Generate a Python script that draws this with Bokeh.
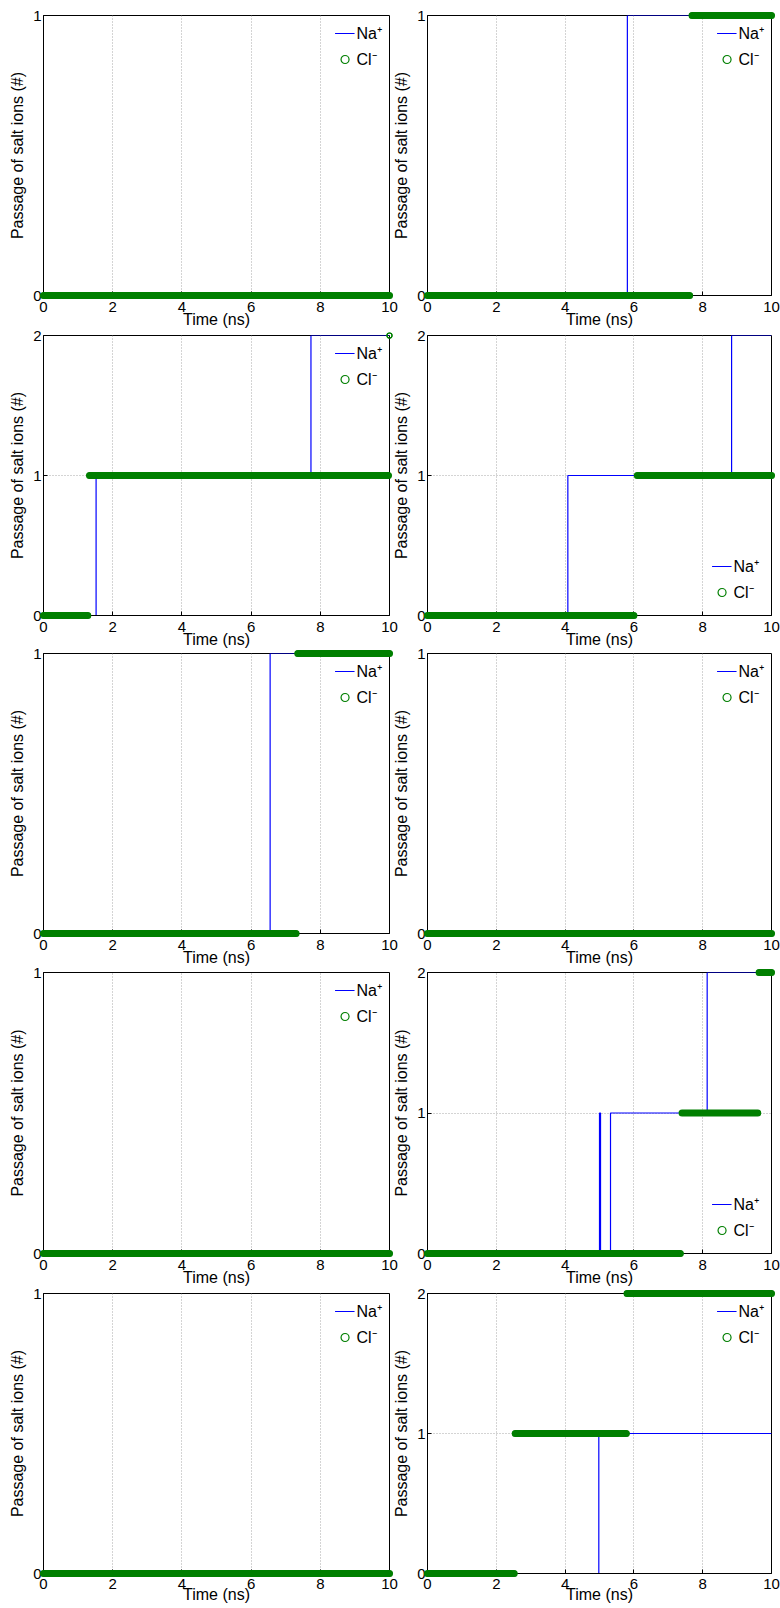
from bokeh.plotting import figure
from bokeh.layouts import column, row
from bokeh.models import Range1d, Legend, LegendItem, FixedTicker
from bokeh.embed import file_html
from bokeh.resources import INLINE

# ---------------- data ----------------
X_TICKS = [0, 2, 4, 6, 8, 10]
Y_MAX = [1, 1, 2, 2, 1, 1, 1, 2, 1, 2]

# Na+ : step series (time of change, value held after it)
NA_T = [
    [0, 10],
    [0, 5.81, 10],
    [0, 1.52, 7.73, 10],
    [0, 4.08, 8.84, 10],
    [0, 6.55, 10],
    [0, 10],
    [0, 10],
    [0, 5.0, 5.03, 5.32, 8.13, 10],
    [0, 10],
    [0, 4.98, 10],
]
NA_V = [
    [0, 0],
    [0, 1, 1],
    [0, 1, 2, 2],
    [0, 1, 2, 2],
    [0, 1, 1],
    [0, 0],
    [0, 0],
    [0, 1, 0, 1, 2, 2],
    [0, 0],
    [0, 1, 1],
]
# Cl- : densely sampled markers, described as runs (start, end, level)
CL_START = [[0], [0, 7.69], [0, 1.33, 10.0], [0, 6.1], [0, 7.35],
            [0], [0], [0, 7.4, 9.64], [0], [0, 2.55, 5.8]]
CL_END = [[10], [7.62, 10], [1.28, 9.97, 10.0], [6.0, 10], [7.3, 10],
          [10], [10], [7.35, 9.6, 10], [10], [2.52, 5.78, 10]]
CL_LEVEL = [[0], [0, 1], [0, 1, 2], [0, 1], [0, 1],
            [0], [0], [0, 1, 2], [0], [0, 1, 2]]
LEGEND_LOC = ["top_right", "top_right", "top_right", "bottom_right", "top_right",
              "top_right", "top_right", "bottom_right", "top_right", "top_right"]

NA_LABEL = "Na\u207a"
CL_LABEL = "Cl\u207b"
X_LABEL = "Time (ns)"
Y_LABEL = "Passage of salt ions (#)"

# ---------------- style / layout ----------------
FONT = "Liberation Sans"
BLUE = "#0000ff"
GREEN = "#007f00"
TOPS = [15, 12, 12, 12, 11]
FRAME_H = [280, 280, 280, 281, 280]
BOTTOMS = [38, 38, 38, 38, 35]
ROW_SHIFT = [0, -10, -12, -11, -9]
X_TICK_STANDOFF = [6, 6, 6, 6, 5]
X_LABEL_STANDOFF = [-4, -4, -4, -4, -6]
FRAME_W = 346


def make_panel(i, col, r):
    ymax = Y_MAX[i]
    left = 43 if col == 0 else 35
    right = 11 if col == 0 else 9
    p = figure(width=left + FRAME_W + right,
               height=TOPS[r] + FRAME_H[r] + BOTTOMS[r],
               x_range=Range1d(0, 10), y_range=Range1d(0, ymax),
               output_backend="svg", toolbar_location=None,
               min_border_left=left, min_border_right=right,
               min_border_top=TOPS[r], min_border_bottom=BOTTOMS[r])
    p.background_fill_color = "white"
    p.border_fill_color = None
    if col == 1:
        p.margin = (0, 0, 0, -10)
    p.outline_line_color = "black"
    p.outline_line_width = 1
    p.outline_line_alpha = 1

    yticks = list(range(ymax + 1))
    p.xaxis.ticker = FixedTicker(ticks=X_TICKS)
    p.yaxis.ticker = FixedTicker(ticks=yticks)
    p.xgrid.ticker = FixedTicker(ticks=X_TICKS[1:-1])
    p.ygrid.ticker = FixedTicker(ticks=yticks[1:-1])
    for g in (p.xgrid, p.ygrid):
        g.grid_line_color = "#a8a8a8"
        g.grid_line_dash = "1 2"
        g.grid_line_width = 1

    for ax in (p.xaxis, p.yaxis):
        ax.major_tick_in = 4
        ax.major_tick_out = 0
        ax.minor_tick_line_color = None
        ax.axis_line_color = "black"
        ax.major_tick_line_color = "black"
        ax.major_label_text_font = FONT
        ax.major_label_text_font_size = "15px"
        ax.major_label_text_color = "black"
        ax.axis_label_text_font = FONT
        ax.axis_label_text_font_size = "16px"
        ax.axis_label_text_font_style = "normal"
        ax.axis_label_text_color = "black"
    p.xaxis.axis_label = X_LABEL
    p.yaxis.axis_label = Y_LABEL
    p.xaxis.major_label_standoff = X_TICK_STANDOFF[r]
    p.xaxis.axis_label_standoff = X_LABEL_STANDOFF[r]
    p.yaxis.major_label_standoff = 2
    p.yaxis.axis_label_standoff = 4

    na = p.step(x=NA_T[i], y=NA_V[i], mode="after", line_color=BLUE, line_width=1.2)

    runs = [(s, e, l) for s, e, l in zip(CL_START[i], CL_END[i], CL_LEVEL[i]) if e > s]
    p.segment(x0=[q[0] for q in runs], y0=[q[2] for q in runs],
              x1=[q[1] for q in runs], y1=[q[2] for q in runs],
              line_color=GREEN, line_width=7, line_cap="round", level="overlay")
    cl = p.scatter(x=CL_START[i] + CL_END[i], y=CL_LEVEL[i] + CL_LEVEL[i],
                   marker="circle", size=5, fill_color=None, line_color=GREEN,
                   line_width=1.2, level="overlay")

    loc = LEGEND_LOC[i]
    legend = Legend(items=[LegendItem(label=NA_LABEL, renderers=[na]),
                           LegendItem(label=CL_LABEL, renderers=[cl])],
                    location=loc, margin=4 if loc == "top_right" else 9,
                    padding=3, spacing=4, glyph_width=20, glyph_height=20,
                    label_height=20, label_standoff=2,
                    label_text_font=FONT, label_text_font_size="16px",
                    label_text_color="black",
                    border_line_alpha=0, background_fill_color="white",
                    background_fill_alpha=1)
    p.add_layout(legend)
    return p


rows = []
for r in range(5):
    rows.append(row(make_panel(2 * r, 0, r), make_panel(2 * r + 1, 1, r),
                    margin=(ROW_SHIFT[r], 0, 0, 0)))
layout = column(*rows)

open("out.html", "w").write(file_html(layout, INLINE))
